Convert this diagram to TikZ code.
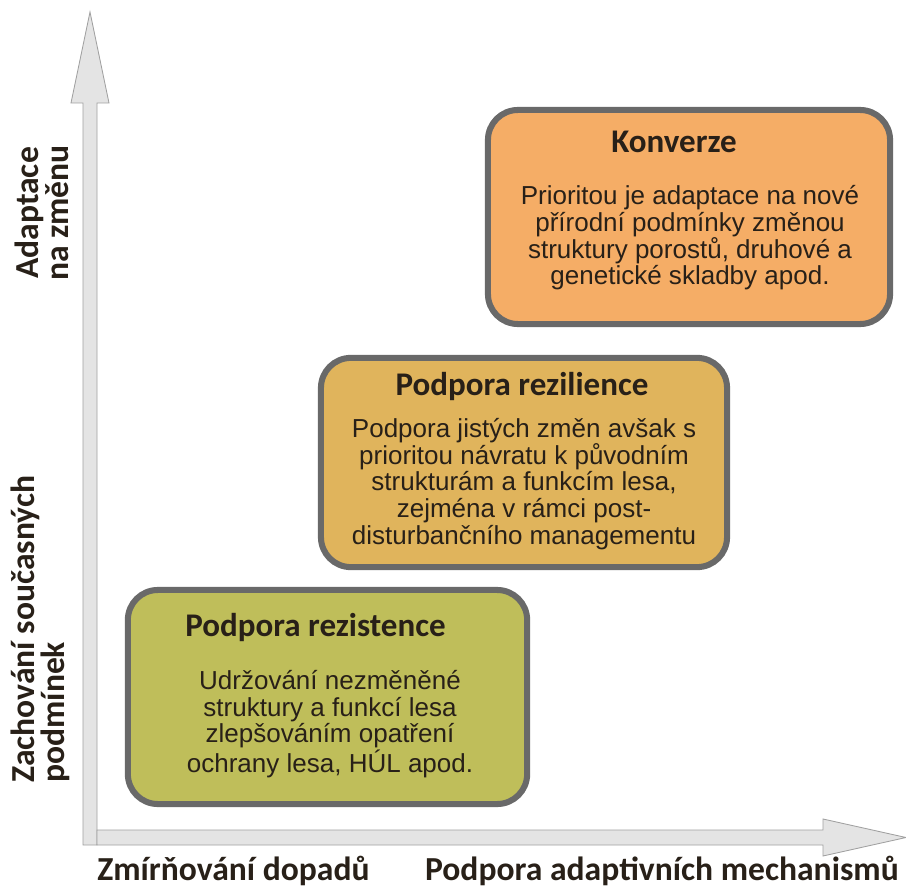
\documentclass[tikz,border=0pt]{standalone}
\usepackage{fontspec}
\setmainfont{Liberation Sans}
\newfontfamily\headfont{Carlito}
\usetikzlibrary{positioning}

\definecolor{konverze}{RGB}{245,173,102}
\definecolor{rezilience}{RGB}{224,180,92}
\definecolor{rezistence}{RGB}{191,190,90}
\definecolor{rim}{RGB}{105,105,105}
\definecolor{axisfill}{RGB}{228,228,228}
\definecolor{axisline}{RGB}{160,160,160}
\definecolor{ink}{RGB}{40,32,24}

\tikzset{
	box/.style={draw=rim, line width=4.3pt, rounded corners=0.75cm, inner sep=0pt},
	boxtitle/.style={inner sep=0pt, text=ink, font=\headfont\bfseries\fontsize{23.5}{26}\selectfont},
	boxtext/.style={inner sep=0pt, align=center, text=ink, font=\fontsize{18.5}{19}\selectfont},
	axislabel/.style={inner sep=0pt, text=ink, font=\headfont\bfseries\fontsize{23.9}{20}\selectfont},
	axisarrow/.style={draw=axisline, fill=axisfill, line width=0.6pt}
}

\begin{document}
\begin{tikzpicture}[x=0.025cm,y=0.025cm]
	\useasboundingbox (0,0) rectangle (906,890);
	% axes
	\draw[axisarrow](83,45)--(97,45)--(97,787)--(109,787)--(90,878)--(71,787)--(83,787)--cycle;
	\draw[axisarrow](97,45)--(823,45)--(823,34)--(906,52.5)--(823,71)--(823,60)--(97,60)--cycle;
	\node[axislabel, anchor=base west] (mitig) at (97,10) {Zmírňování dopadů};
	\node[axislabel, anchor=base east] (adapt) at (899,10) {Podpora adaptivních mechanismů};
	\node[axislabel, rotate=90, align=center] (change) at (42,677) {Adaptace\\na změnu};
	\node[axislabel, rotate=90, align=left, anchor=west] (keep) at (40,107) {Zachování současných\\podmínek};
	% boxes
	\node[box, fill=konverze, minimum width=10.05cm, minimum height=5.35cm] (konv) at (689,673) {};
	\node[boxtitle] (konvtitle) at (674,748) {Konverze};
	\node[boxtext] (konvtext) at (690,652) {Prioritou je adaptace na nové\\přírodní podmínky změnou\\struktury porostů, druhové a\\genetické skladby apod.};
	\node[box, fill=rezilience, minimum width=10.15cm, minimum height=5.23cm] (rezil) at (524,427.5) {};
	\node[boxtitle] (reziltitle) at (522,503) {Podpora rezilience};
	\node[boxtext] (reziltext) at (524,406) {Podpora jistých změn avšak s\\prioritou návratu k původním\\strukturám a funkcím lesa,\\zejména v rámci post-\\disturbančního managementu};
	\node[box, fill=rezistence, minimum width=9.98cm, minimum height=5.35cm] (rezis) at (327.5,193) {};
	\node[boxtitle, anchor=west] (rezistitle) at (185,262) {Podpora rezistence};
	\node[boxtext] (rezistext) at (330,166) {Udržování nezměněné\\struktury a funkcí lesa\\zlepšováním opatření\\ochrany lesa, HÚL apod.};
\end{tikzpicture}
\end{document}
